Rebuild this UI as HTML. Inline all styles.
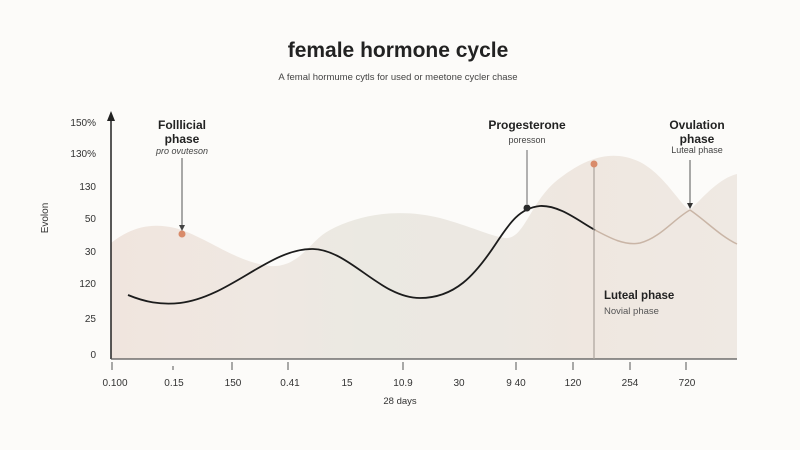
<!DOCTYPE html>
<html><head><meta charset="utf-8"><style>
html,body{margin:0;padding:0;background:#fcfbf9;}
svg{display:block;font-family:"Liberation Sans",sans-serif;}
</style></head><body>
<svg width="800" height="450" viewBox="0 0 800 450">
<defs>
<linearGradient id="g" x1="111" y1="0" x2="737" y2="0" gradientUnits="userSpaceOnUse">
<stop offset="0" stop-color="#f0e5de"/>
<stop offset="0.25" stop-color="#efe8e2"/>
<stop offset="0.4" stop-color="#ebe9e2"/>
<stop offset="0.6" stop-color="#ece8e2"/>
<stop offset="0.75" stop-color="#efe7e0"/>
<stop offset="1" stop-color="#efe9e3"/>
</linearGradient>
</defs>
<rect width="800" height="450" fill="#fcfbf9"/>
<text x="398" y="57" text-anchor="middle" font-size="21" font-weight="bold" fill="#222">female hormone cycle</text>
<text x="398" y="80" text-anchor="middle" font-size="9.5" fill="#444">A femal hormume cytls for used or meetone cycler chase</text>
<path d="M111,359 L111,243 C130,228 150,222 175,228 C205,236 235,262 270,266 C300,268 310,240 330,230 C360,214 400,208 440,218 C470,226 490,236 505,238 C525,240 530,200 560,178 C590,155 615,150 640,162 C665,175 680,205 690,210 C705,195 720,178 737,174 L737,359 Z" fill="url(#g)"/>
<line x1="111" y1="359" x2="111" y2="116" stroke="#222" stroke-width="1.5"/>
<path d="M107,121 L111,111 L115,121 Z" fill="#222"/>
<line x1="111" y1="359" x2="737" y2="359" stroke="#555" stroke-width="1.2"/>
<g stroke="#555" stroke-width="1">
<line x1="112" y1="362" x2="112" y2="370"/><line x1="173" y1="366" x2="173" y2="370"/><line x1="232" y1="362" x2="232" y2="370"/><line x1="288" y1="362" x2="288" y2="370"/><line x1="403" y1="362" x2="403" y2="370"/><line x1="516" y1="362" x2="516" y2="370"/><line x1="573" y1="362" x2="573" y2="370"/><line x1="630" y1="362" x2="630" y2="370"/><line x1="686" y1="362" x2="686" y2="370"/>
</g>
<g font-size="10" fill="#333" text-anchor="middle">
<text x="115" y="386">0.100</text><text x="174" y="386">0.15</text><text x="233" y="386">150</text><text x="290" y="386">0.41</text><text x="347" y="386">15</text><text x="403" y="386">10.9</text><text x="459" y="386">30</text><text x="516" y="386">9 40</text><text x="573" y="386">120</text><text x="630" y="386">254</text><text x="687" y="386">720</text>
<text x="400" y="404" font-size="9.5">28 days</text>
</g>
<g font-size="10" fill="#333" text-anchor="end">
<text x="96" y="126">150%</text><text x="96" y="157">130%</text><text x="96" y="190">130</text><text x="96" y="222">50</text><text x="96" y="255">30</text><text x="96" y="287">120</text><text x="96" y="322">25</text><text x="96" y="358">0</text>
</g>
<text x="48" y="218" font-size="10" fill="#333" text-anchor="middle" transform="rotate(-90 48 218)">Evolon</text>
<path d="M595,230 C610,238 625,246 640,243 C660,238 675,218 690,210 C705,220 720,236 737,244" fill="none" stroke="#c9b5a6" stroke-width="1.5"/>
<path d="M128,295 C145,302 160,305 180,303 C230,297 270,248 313,249 C350,250 380,298 420,298 C455,298 475,275 495,245 C510,222 520,208 540,206 C560,205 580,222 595,230" fill="none" stroke="#1c1c1c" stroke-width="1.8"/>
<line x1="594" y1="164" x2="594" y2="359" stroke="#aaa39c" stroke-width="1.2"/>
<circle cx="594" cy="164" r="3.5" fill="#d98b6a"/>
<circle cx="182" cy="234" r="3.5" fill="#d98b6a"/>
<circle cx="527" cy="208" r="3.5" fill="#2a2a2a"/>
<line x1="182" y1="158" x2="182" y2="226" stroke="#555" stroke-width="1"/>
<path d="M179,225 L182,231 L185,225 Z" fill="#444"/>
<line x1="527" y1="150" x2="527" y2="204" stroke="#666" stroke-width="1"/>
<line x1="690" y1="160" x2="690" y2="204" stroke="#555" stroke-width="1"/>
<path d="M687,203 L690,209 L693,203 Z" fill="#333"/>
<g text-anchor="middle" fill="#222" font-weight="bold" font-size="12">
<text x="182" y="129">Folllicial</text><text x="182" y="143">phase</text>
<text x="527" y="129">Progesterone</text>
<text x="697" y="129">Ovulation</text><text x="697" y="143">phase</text>
</g>
<g text-anchor="middle" fill="#444" font-size="9">
<text x="182" y="154" font-style="italic">pro ovuteson</text>
<text x="527" y="143">poresson</text>
<text x="697" y="153">Luteal phase</text>
</g>
<text x="604" y="299" font-size="11.5" font-weight="bold" fill="#222">Luteal phase</text>
<text x="604" y="314" font-size="9.5" fill="#555">Novial phase</text>
</svg>
</body></html>
